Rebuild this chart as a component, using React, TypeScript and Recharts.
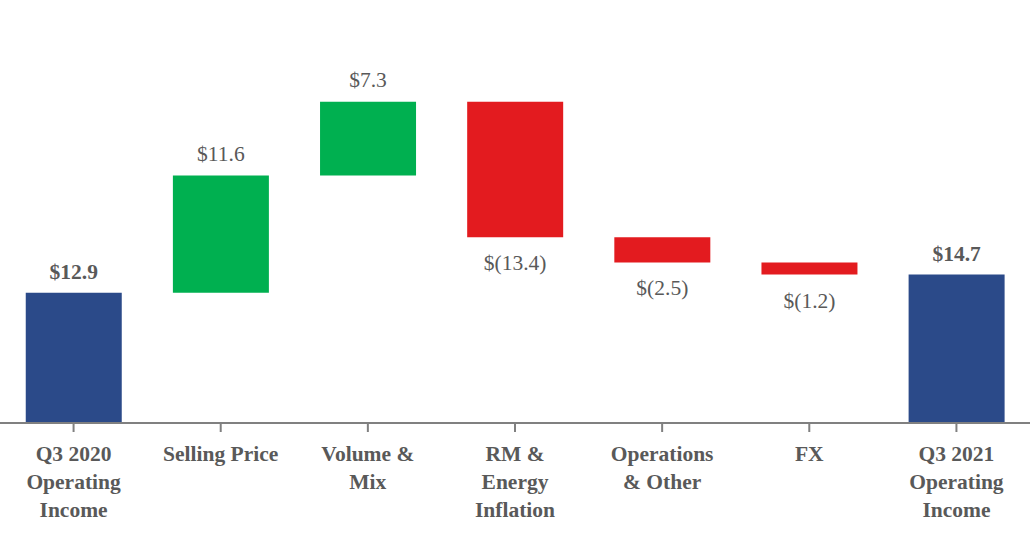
import React from "react";
import { BarChart, Bar, XAxis, YAxis, Cell, LabelList } from "recharts";

const categories: string[][] = [
  ["Q3 2020", "Operating", "Income"],
  ["Selling Price"],
  ["Volume &", "Mix"],
  ["RM &", "Energy", "Inflation"],
  ["Operations", "& Other"],
  ["FX"],
  ["Q3 2021", "Operating", "Income"],
];
const values: number[] = [12.9, 11.6, 7.3, -13.4, -2.5, -1.2, 14.7];
const kinds: string[] = ["total", "delta", "delta", "delta", "delta", "delta", "total"];

const NAVY = "#2B4A89";
const GREEN = "#00B050";
const RED = "#E31B1F";
const TEXT = "#595959";
const AXIS = "#808080";
const FONT = "'Liberation Serif', 'Times New Roman', serif";

let running = 0;
const data = values.map((v, i) => {
  let base = 0;
  let size = 0;
  if (kinds[i] === "total") {
    base = 0;
    size = v;
    running = v;
  } else {
    const end = running + v;
    base = Math.min(running, end);
    size = Math.abs(v);
    running = end;
  }
  return { name: categories[i].join(" "), base, size, idx: i };
});

const colorFor = (i: number) =>
  kinds[i] === "total" ? NAVY : values[i] >= 0 ? GREEN : RED;

const fmt = (i: number) => {
  const v = values[i];
  if (v < 0) return `$(${Math.abs(v).toFixed(1)})`;
  return `$${v.toFixed(1)}`;
};

const CategoryTick = (props: any) => {
  const { x, payload } = props;
  const lines = categories[payload.index] || [];
  return (
    <text
      x={x}
      y={423}
      textAnchor="middle"
      fill={TEXT}
      fontFamily={FONT}
      fontWeight="bold"
      fontSize={21.5}
    >
      {lines.map((l, k) => (
        <tspan key={k} x={x} y={460.5 + k * 28}>
          {l}
        </tspan>
      ))}
    </text>
  );
};

const ValueLabel = (props: any) => {
  const { x, y, width, height, value } = props;
  const i = Number(value);
  const cx = Number(x) + Number(width) / 2;
  const kind = kinds[i];
  let ty = Number(y) - 15;
  if (kind === "total") ty = Number(y) - 14;
  else if (values[i] < 0) ty = Number(y) + Number(height) + 33;
  return (
    <text
      x={cx}
      y={ty}
      textAnchor="middle"
      fill={TEXT}
      fontFamily={FONT}
      fontWeight={kind === "total" ? "bold" : "normal"}
      fontSize={21.5}
    >
      {fmt(i)}
    </text>
  );
};

export default function App() {
  return (
    <div style={{ position: "absolute", left: 0, top: 0, width: 1030, height: 540, background: "#fff" }}>
      <BarChart
        width={1030}
        height={540}
        data={data}
        margin={{ top: 19, right: 0, bottom: 0, left: 0 }}
        barCategoryGap="17.5%"
      >
        <XAxis
          dataKey="name"
          interval={0}
          height={117}
          tickSize={9}
          axisLine={{ stroke: AXIS, strokeWidth: 2 }}
          tickLine={{ stroke: AXIS, strokeWidth: 2 }}
          tick={<CategoryTick />}
        />
        <YAxis hide domain={[0, 40]} />
        <Bar dataKey="base" stackId="w" fill="transparent" isAnimationActive={false} />
        <Bar dataKey="size" stackId="w" isAnimationActive={false}>
          {data.map((d, i) => (
            <Cell key={i} fill={colorFor(i)} />
          ))}
          <LabelList dataKey="idx" content={<ValueLabel />} />
        </Bar>
      </BarChart>
    </div>
  );
}
